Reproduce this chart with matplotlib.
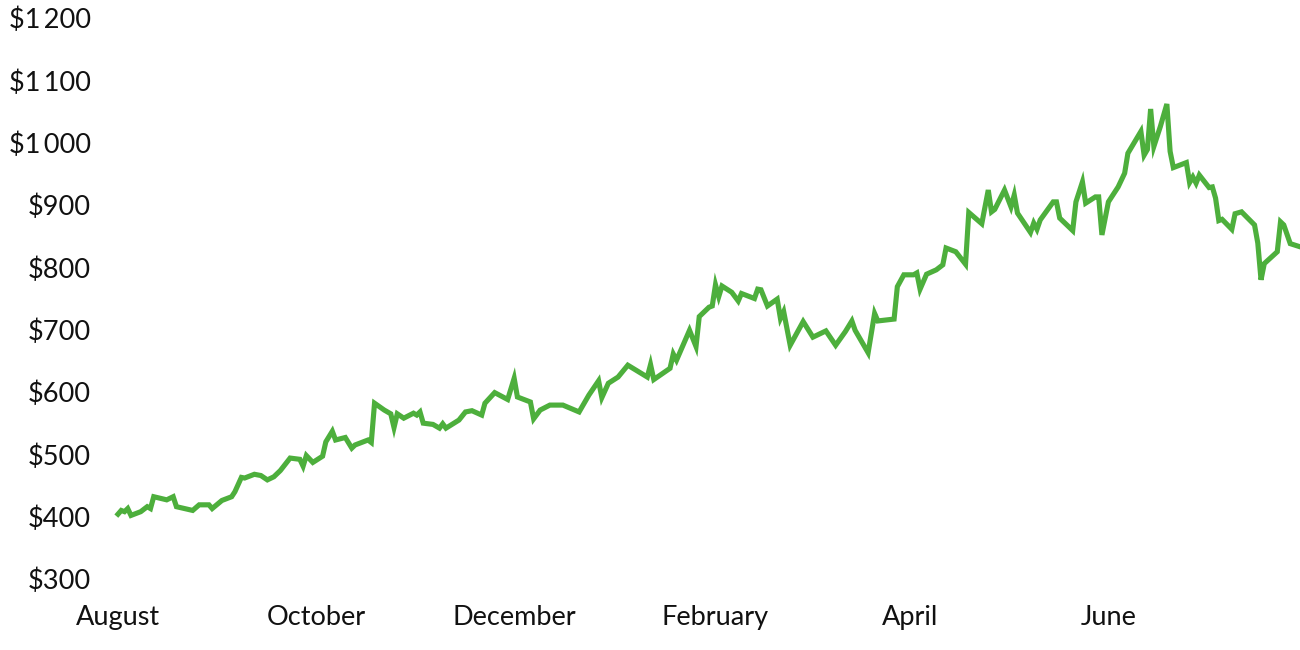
import matplotlib
matplotlib.use("Agg")
import matplotlib.pyplot as plt
import pandas as pd

plt.rcParams['font.family'] = ['Lato', 'DejaVu Sans']

start_date = "2023-08-01"
day_offsets = [0, 1, 2, 3, 4, 7, 9, 10, 11, 15, 17, 18, 23, 25, 28, 29, 32, 35, 36, 38,
               39, 42, 44, 46, 48, 50, 53, 56, 57, 58, 60, 63, 64, 66, 67, 70, 72, 73, 77, 78,
               79, 82, 84, 85, 86, 88, 91, 92, 93, 94, 97, 99, 100, 101, 105, 107, 109, 112, 113, 116,
               120, 122, 123, 127, 128, 130, 133, 137, 142, 145, 148, 149, 151, 154, 157, 163, 164, 165, 170, 171,
               172, 176, 178, 179, 182, 183, 184, 185, 186, 189, 191, 192, 196, 197, 198, 200, 203, 204, 205, 207,
               211, 214, 218, 221, 224, 226, 227, 231, 233, 234, 239, 240, 242, 245, 246, 247, 249, 252, 254, 255,
               258, 261, 262, 266, 268, 269, 270, 273, 275, 276, 277, 281, 282, 283, 284, 288, 289, 290, 294, 295,
               297, 298, 301, 302, 303, 305, 308, 310, 311, 315, 316, 317, 318, 319, 321, 323, 324, 325, 329, 330,
               331, 332, 333, 336, 337, 338, 339, 340, 343, 344, 346, 350, 351, 352, 353, 357, 358, 359, 361, 364]
prices = [404, 410, 408, 413, 402, 408, 416, 413, 432, 427, 432, 416, 410, 419, 419, 413, 426, 432, 440, 463,
          462, 468, 466, 459, 464, 474, 494, 492, 481, 498, 487, 497, 520, 537, 523, 527, 510, 515, 523, 519,
          582, 571, 565, 543, 565, 558, 566, 563, 568, 550, 548, 542, 549, 542, 555, 568, 570, 563, 582, 599,
          588, 622, 592, 584, 557, 571, 579, 579, 568, 595, 618, 591, 614, 624, 643, 624, 644, 620, 638, 661,
          651, 699, 673, 721, 736, 738, 772, 753, 770, 760, 746, 758, 750, 765, 764, 738, 749, 718, 729, 675,
          713, 688, 698, 675, 697, 714, 699, 663, 726, 714, 717, 769, 788, 788, 791, 765, 789, 796, 804, 831,
          825, 805, 888, 870, 924, 889, 893, 924, 897, 916, 887, 856, 871, 861, 876, 905, 905, 879, 859, 905,
          937, 903, 913, 913, 852, 905, 929, 951, 983, 1018, 980, 989, 1054, 994, 1026, 1062, 986, 960, 968, 936,
          945, 935, 948, 928, 929, 911, 875, 877, 861, 886, 889, 868, 839, 780, 806, 825, 873, 868, 838, 833]

month_ticks = ["2023-08-01", "2023-10-01", "2023-12-01", "2024-02-01", "2024-04-01", "2024-06-01"]
month_labels = ["August", "October", "December", "February", "April", "June"]
y_ticks = [300, 400, 500, 600, 700, 800, 900, 1000, 1100, 1200]

dates = pd.Timestamp(start_date) + pd.to_timedelta(day_offsets, unit="D")

def fmt_money(v):
    s = f"{v:,}".replace(",", "\u2009")
    return "$" + s

fig = plt.figure(figsize=(13, 6.5), dpi=100)
ax = fig.add_axes([118/1300, 1 - 579/650, 1 - 118/1300, (579 - 18)/650])
ax.plot(dates, prices, color="#4DAF3C", linewidth=3.7, solid_joinstyle="miter", clip_on=False)

ax.set_ylim(300, 1200)
ax.set_xlim(dates[0], dates[-1])
ax.set_yticks(y_ticks)
ax.set_yticklabels([fmt_money(v) for v in y_ticks])
ax.set_xticks(pd.to_datetime(month_ticks))
ax.set_xticklabels(month_labels)
ax.tick_params(axis="both", length=0, labelsize=19.5, colors="#111111")
ax.tick_params(axis="y", pad=19.5)
ax.tick_params(axis="x", pad=19)
for s in ax.spines.values():
    s.set_visible(False)
ax.set_facecolor("white")

fig.savefig("out.png", dpi=100, facecolor="white")
